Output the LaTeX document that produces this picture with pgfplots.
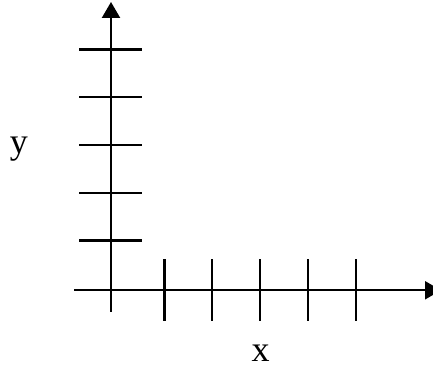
\documentclass[border=0pt]{standalone}
\usepackage{fontspec}
\setmainfont{Liberation Serif}
\usepackage{pgfplots}
\pgfplotsset{compat=1.18}
\usetikzlibrary{arrows.meta}
\begin{document}
\begin{tikzpicture}
\begin{axis}[
  width=216.5pt, height=184pt, scale only axis,
  xmin=0, xmax=433, ymin=0, ymax=368,
  hide axis, clip=true,
]
% axes
\addplot[black, line width=1.1pt, -{Triangle[length=8pt,width=9pt]}] coordinates {(111,56) (111,366)};
\addplot[black, line width=1.1pt, -{Triangle[length=8pt,width=9pt]}] coordinates {(74,77.7) (441,77.7)};
% y ticks
\addplot[black, line width=1.1pt] coordinates {(79,318.5) (142,318.5)};
\addplot[black, line width=1.1pt] coordinates {(79,270.7) (142,270.7)};
\addplot[black, line width=1.1pt] coordinates {(79,223) (142,223)};
\addplot[black, line width=1.1pt] coordinates {(79,175.3) (142,175.3)};
\addplot[black, line width=1.1pt] coordinates {(79,127.5) (142,127.5)};
% x ticks
\addplot[black, line width=1.1pt] coordinates {(164.5,108.5) (164.5,47)};
\addplot[black, line width=1.1pt] coordinates {(212.3,108.5) (212.3,47)};
\addplot[black, line width=1.1pt] coordinates {(260,108.5) (260,47)};
\addplot[black, line width=1.1pt] coordinates {(307.8,108.5) (307.8,47)};
\addplot[black, line width=1.1pt] coordinates {(355.7,108.5) (355.7,47)};
% labels
\node[anchor=base, inner sep=0pt, font=\fontsize{18pt}{20pt}\selectfont] at (axis cs:19,214) {y};
\node[anchor=base, inner sep=0pt, font=\fontsize{18pt}{20pt}\selectfont] at (axis cs:260.5,6.3) {x};
\end{axis}
\pgfresetboundingbox
\path (0,0) rectangle (216.5pt,184pt);
\end{tikzpicture}
\end{document}
